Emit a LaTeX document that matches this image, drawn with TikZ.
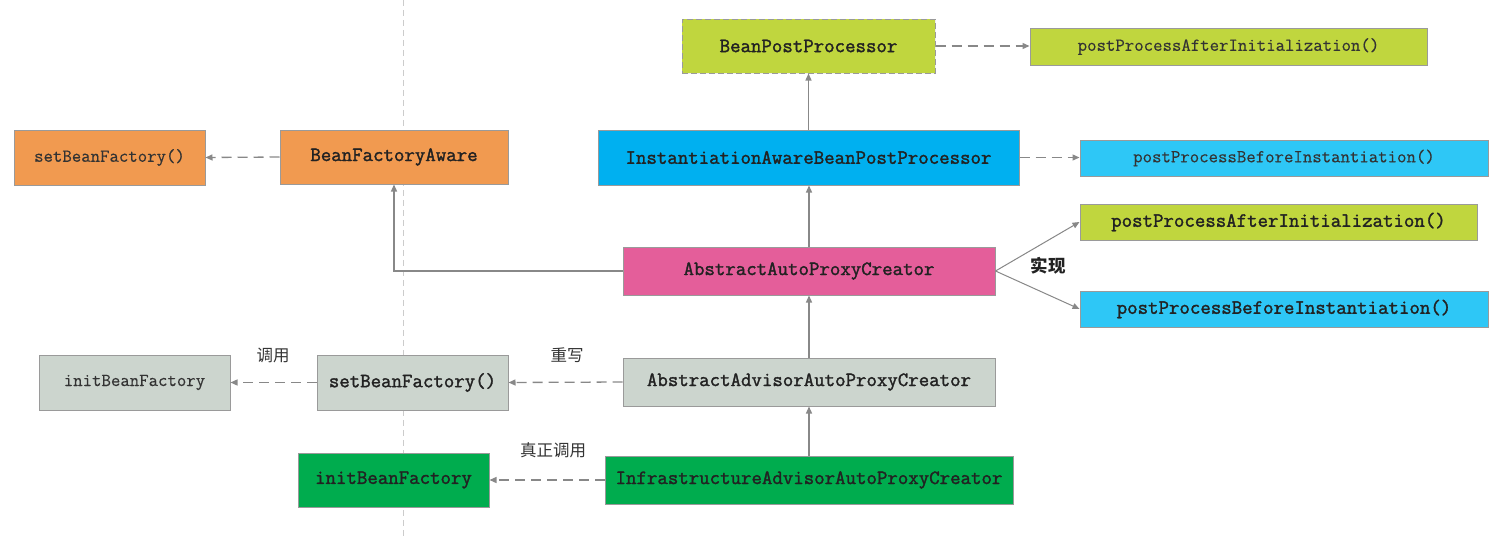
\documentclass[tikz,border=0pt]{standalone}
\usepackage{fontspec}
\usetikzlibrary{arrows.meta,shadows}
\newfontfamily\mono{Latin Modern Mono}[FakeBold=0.4]
\newfontfamily\monob{Latin Modern Mono}[FakeBold=1.6]
\newfontfamily\cjk{Noto Sans CJK SC}
\definecolor{corange}{HTML}{F19A50}
\definecolor{cyg}{HTML}{C0D63E}
\definecolor{cblue}{HTML}{00B0F0}
\definecolor{clblue}{HTML}{2EC7F6}
\definecolor{cpink}{HTML}{E45E9A}
\definecolor{cgray}{HTML}{CCD5CE}
\definecolor{cgreen}{HTML}{00AC4E}
\definecolor{cborder}{HTML}{9A9A9A}
\definecolor{cline}{HTML}{888888}
\definecolor{ctxt}{HTML}{333333}
\definecolor{ctxtb}{HTML}{222222}
\tikzset{
  box/.style={draw=cborder, line width=1pt, inner sep=0pt, anchor=center,
    drop shadow={shadow xshift=1.2pt, shadow yshift=-1.2pt, fill=black!12}},
  regtxt/.style={font=\mono\fontsize{18.3}{20}\selectfont, text=ctxt},
  boldtxt/.style={font=\monob\fontsize{20.3}{22}\selectfont, text=ctxtb},
  conn/.style={draw=cline, line width=1.3pt, -{Triangle[length=7pt,width=6pt]}},
  dconn/.style={conn, dash pattern=on 10pt off 6pt},
  lbl/.style={font=\cjk\fontsize{16.5}{18}\selectfont, text=ctxt, inner sep=0pt},
}
\begin{document}
\begin{tikzpicture}[x=1pt,y=-1pt]
\useasboundingbox (0,0) rectangle (1508,536);
\draw[draw=black!20, line width=1pt, dash pattern=on 6pt off 4pt] (403,0) -- (403,536);

\node[box, fill=corange, minimum width=191pt, minimum height=55pt, regtxt] (sbf1) at (109.5,157.5) {setBeanFactory()};
\node[box, fill=corange, minimum width=228pt, minimum height=54pt, boldtxt] (bfa) at (394,157) {BeanFactoryAware};
\node[box, fill=cyg, minimum width=253pt, minimum height=54pt, boldtxt, dash pattern=on 6pt off 3pt] (bpp) at (808.5,46) {BeanPostProcessor};
\node[box, fill=cyg, minimum width=397pt, minimum height=37pt, regtxt] (ppai1) at (1228.5,46.5) {postProcessAfterInitialization()};
\node[box, fill=cblue, minimum width=421pt, minimum height=55pt, boldtxt] (iabpp) at (808.5,157.5) {InstantiationAwareBeanPostProcessor};
\node[box, fill=clblue, minimum width=408pt, minimum height=36pt, regtxt] (ppbi1) at (1284,158) {postProcessBeforeInstantiation()};
\node[box, fill=cpink, minimum width=372pt, minimum height=48pt, boldtxt] (aapc) at (809,271) {AbstractAutoProxyCreator};
\node[box, fill=cyg, minimum width=397pt, minimum height=36pt, boldtxt] (ppai2) at (1278.5,222) {postProcessAfterInitialization()};
\node[box, fill=clblue, minimum width=408pt, minimum height=36pt, boldtxt] (ppbi2) at (1284,309) {postProcessBeforeInstantiation()};
\node[box, fill=cgray, minimum width=191pt, minimum height=55pt, regtxt] (ibf1) at (134.5,382.5) {initBeanFactory};
\node[box, fill=cgray, minimum width=191pt, minimum height=55pt, boldtxt] (sbf2) at (412.5,382.5) {setBeanFactory()};
\node[box, fill=cgray, minimum width=372pt, minimum height=48pt, boldtxt] (aaapc) at (809,382) {AbstractAdvisorAutoProxyCreator};
\node[box, fill=cgreen, minimum width=191pt, minimum height=54pt, boldtxt] (ibf2) at (393.5,480) {initBeanFactory};
\node[box, fill=cgreen, minimum width=408pt, minimum height=48pt, boldtxt] (iaapc) at (809,480) {InfrastructureAdvisorAutoProxyCreator};

\draw[dconn] (bfa.west) -- (sbf1.east);
\draw[dconn] (bpp.east) -- (bpp.east -| ppai1.west);
\draw[conn] (iabpp.north) -- (bpp.south);
\draw[dconn] (iabpp.east) -- (iabpp.east -| ppbi1.west);
\draw[conn] (aapc.north) -- (aapc.north |- iabpp.south);
\draw[conn] (aapc.west) -| (bfa.south);
\draw[conn, line width=1pt] (aapc.east) -- (ppai2.west);
\draw[conn, line width=1pt] (aapc.east) -- (ppbi2.west);
\draw[conn] (aaapc.north) -- (aapc.south);
\draw[dconn] (aaapc.west) -- (sbf2.east);
\draw[dconn] (sbf2.west) -- (ibf1.east);
\draw[conn] (iaapc.north) -- (aaapc.south);
\draw[dconn] (iaapc.west) -- (ibf2.east);

\node[lbl, font=\cjk\bfseries\fontsize{17.5}{19}\selectfont, text=ctxtb] (lshix) at (1048,266) {实现};
\node[lbl] (ldy) at (273,355) {调用};
\node[lbl] (lcx) at (567,355) {重写};
\node[lbl] (lzz) at (553,450) {真正调用};
\end{tikzpicture}
\end{document}
